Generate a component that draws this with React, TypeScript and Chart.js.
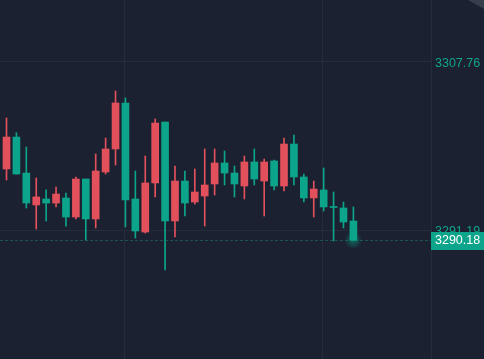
import React, { useEffect, useRef } from "react";
import { Chart, registerables } from "chart.js";

Chart.register(...registerables);

// OHLC values (Chinese convention: red = close > open, green = close < open)
const opens = [3297.21, 3300.36, 3296.81, 3293.66, 3294.25, 3293.85, 3294.35, 3292.47, 3296.22, 3292.28, 3296.91, 3299.18, 3303.72, 3294.25, 3290.99, 3295.83, 3301.84, 3292.08, 3296.02, 3293.95, 3294.54, 3295.73, 3297.80, 3296.81, 3295.53, 3297.90, 3296.02, 3298.00, 3295.53, 3299.67, 3296.42, 3294.35, 3295.14, 3293.46, 3293.36, 3292.08];
const highs = [3302.24, 3300.79, 3299.38, 3296.32, 3295.14, 3295.43, 3294.84, 3296.42, 3296.22, 3298.69, 3300.26, 3304.90, 3304.21, 3297.01, 3298.49, 3302.14, 3301.84, 3297.50, 3297.01, 3297.21, 3299.18, 3299.18, 3298.98, 3297.50, 3298.49, 3299.18, 3298.19, 3298.09, 3300.26, 3300.56, 3296.71, 3296.02, 3297.31, 3294.94, 3293.95, 3293.46];
const lows = [3296.12, 3296.71, 3293.36, 3291.29, 3292.08, 3293.46, 3291.58, 3292.28, 3290.20, 3291.39, 3296.71, 3297.60, 3291.49, 3290.40, 3290.89, 3294.45, 3287.25, 3290.50, 3292.57, 3293.75, 3291.58, 3294.64, 3295.63, 3294.45, 3294.25, 3295.63, 3292.57, 3295.14, 3295.04, 3295.63, 3293.95, 3292.47, 3293.06, 3290.11, 3291.39, 3290.18];
const closes = [3300.36, 3296.71, 3293.85, 3294.45, 3293.85, 3294.74, 3292.47, 3296.22, 3292.28, 3297.01, 3299.18, 3303.72, 3294.15, 3291.09, 3295.83, 3301.74, 3292.08, 3296.02, 3293.85, 3294.94, 3295.63, 3297.80, 3296.81, 3295.73, 3297.90, 3296.22, 3297.90, 3295.53, 3299.67, 3296.42, 3294.35, 3295.23, 3293.46, 3293.46, 3291.98, 3290.18];

const yTickValues = [3291.19, 3307.76];
const xGridValues = [11.86, 31.86];
const yMin = 3278.467;
const yMax = 3313.875;
const xMin = -0.656;
const xMax = 42.83;

const UP = "#e2505c";
const DOWN = "#0ca58b";
const BG = "#1b2130";
const GRID = "#252d3b";

export default function App() {
  const ref = useRef<HTMLCanvasElement | null>(null);

  useEffect(() => {
    document.body.style.margin = "0";
    document.body.style.background = BG;
    const canvas = ref.current;
    if (!canvas) return;

    const colors = opens.map((o, i) => (closes[i] > o ? UP : DOWN));
    const wickData = opens.map((_, i) => ({ x: i, y: [lows[i], highs[i]] }));
    const bodyData = opens.map((o, i) => {
      const c = closes[i];
      if (Math.abs(c - o) < 0.05) return { x: i, y: [o - 0.05, o + 0.05] };
      return { x: i, y: [Math.min(o, c), Math.max(o, c)] };
    });
    const lastIdx = closes.length - 1;
    const lastClose = closes[lastIdx];

    const decor = {
      id: "decor",
      beforeDraw(chart: any) {
        const ctx = chart.ctx;
        ctx.save();
        ctx.fillStyle = BG;
        ctx.fillRect(0, 0, chart.width, chart.height);
        ctx.restore();
      },
      beforeDatasetsDraw(chart: any) {
        const ctx = chart.ctx;
        const y = Math.round(chart.scales.y.getPixelForValue(lastClose)) + 0.5;
        const a = chart.chartArea;
        ctx.save();
        ctx.strokeStyle = "#1e524d";
        ctx.lineWidth = 1;
        ctx.setLineDash([3, 2]);
        ctx.beginPath();
        ctx.moveTo(a.left, y);
        ctx.lineTo(a.right, y);
        ctx.stroke();
        ctx.restore();
      },
      afterDatasetsDraw(chart: any) {
        const ctx = chart.ctx;
        const x = chart.scales.x.getPixelForValue(lastIdx);
        const y = chart.scales.y.getPixelForValue(lastClose);
        ctx.save();
        const g = ctx.createRadialGradient(x, y, 0, x, y, 9);
        g.addColorStop(0, "rgba(12,165,139,0.55)");
        g.addColorStop(1, "rgba(12,165,139,0)");
        ctx.fillStyle = g;
        ctx.beginPath();
        ctx.arc(x, y, 9, 0, Math.PI * 2);
        ctx.fill();
        ctx.restore();
      },
      afterDraw(chart: any) {
        const ctx = chart.ctx;
        const a = chart.chartArea;
        const y = chart.scales.y.getPixelForValue(lastClose);
        ctx.save();
        ctx.fillStyle = DOWN;
        ctx.fillRect(a.right, Math.round(y) - 8, chart.width - a.right, 18);
        ctx.fillStyle = "#ffffff";
        ctx.font = "12.5px 'Liberation Sans', Arial, sans-serif";
        ctx.textBaseline = "middle";
        ctx.textAlign = "left";
        ctx.fillText(lastClose.toFixed(2), a.right + 4, Math.round(y) + 1);
        // corner decoration
        ctx.fillStyle = "#363e4c";
        ctx.beginPath();
        ctx.moveTo(468, 0);
        ctx.lineTo(chart.width, 0);
        ctx.lineTo(chart.width, 9);
        ctx.closePath();
        ctx.fill();
        ctx.restore();
      },
    };

    const chart = new Chart(canvas, {
      type: "bar",
      data: {
        datasets: [
          {
            label: "wick",
            data: wickData as any,
            backgroundColor: colors,
            barThickness: 1,
            grouped: false,
            order: 2,
          } as any,
          {
            label: "body",
            data: bodyData as any,
            backgroundColor: colors,
            barThickness: 7,
            grouped: false,
            order: 1,
          } as any,
        ],
      },
      options: {
        animation: false,
        responsive: false,
        maintainAspectRatio: false,
        layout: { padding: 0 },
        plugins: { legend: { display: false }, tooltip: { enabled: false } },
        scales: {
          x: {
            type: "linear",
            min: xMin,
            max: xMax,
            offset: false,
            afterBuildTicks(scale: any) {
              scale.ticks = xGridValues.map((v) => ({ value: v }));
            },
            afterFit(scale: any) {
              scale.height = 0;
              scale.paddingLeft = 0;
              scale.paddingRight = 0;
            },
            ticks: { display: false },
            grid: { color: GRID, drawTicks: false, offset: false },
            border: { display: false },
          },
          y: {
            position: "right",
            min: yMin,
            max: yMax,
            offset: false,
            afterBuildTicks(scale: any) {
              scale.ticks = yTickValues.map((v) => ({ value: v }));
            },
            afterFit(scale: any) {
              scale.width = 53;
              scale.paddingTop = 0;
              scale.paddingBottom = 0;
            },
            ticks: {
              color: "#12a38b",
              padding: 4,
              labelOffset: 2,
              font: { family: "'Liberation Sans', Arial, sans-serif", size: 12.5 },
              callback: (v: any) => Number(v).toFixed(2),
            },
            grid: { color: GRID, drawTicks: false },
            border: { display: true, color: GRID },
          },
        },
      },
      plugins: [decor],
    });
    return () => chart.destroy();
  }, []);

  return (
    <div style={{ position: "fixed", left: 0, top: 0, width: 484, height: 359, background: BG }}>
      <canvas ref={ref} width={484} height={359} style={{ width: 484, height: 359, display: "block" }} />
    </div>
  );
}
